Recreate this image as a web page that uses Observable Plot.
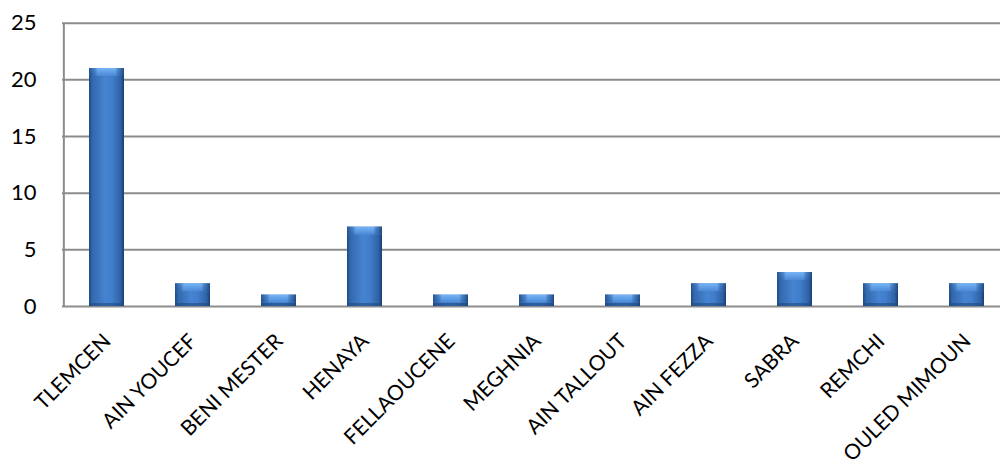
<!DOCTYPE html>
<html>
<head>
<meta charset="utf-8">
<script src="https://cdn.jsdelivr.net/npm/d3@7"></script>
<script src="https://cdn.jsdelivr.net/npm/@observablehq/plot@0.6"></script>
<style>
  html, body { margin: 0; padding: 0; background: #fff; overflow: hidden; }
  svg { display: block; }
</style>
</head>
<body>
<div id="chart"></div>
<script>
// Communes and counts
const communes = ["TLEMCEN", "AIN YOUCEF", "BENI MESTER", "HENAYA", "FELLAOUCENE", "MEGHNIA", "AIN TALLOUT", "AIN FEZZA", "SABRA", "REMCHI", "OULED MIMOUN"];
const counts = [21, 2, 1, 7, 1, 1, 1, 2, 3, 2, 2];
const yTicks = [0, 5, 10, 15, 20, 25];

const data = communes.map((c, i) => ({commune: c, value: counts[i]}));

const W = 1000, H = 469;
const plot = Plot.plot({
  width: W,
  height: H,
  marginLeft: 62,
  marginRight: 0,
  marginTop: 22.7,
  marginBottom: 163,
  style: {fontFamily: "Lato, 'Open Sans', sans-serif", background: "#fff", overflow: "visible"},
  x: {domain: communes, range: [62, 1011], paddingInner: 0.595, paddingOuter: 0.2975, axis: null, label: null},
  y: {domain: [0, 25], ticks: yTicks, axis: null, label: null},
  marks: [
    Plot.ruleY(yTicks, {stroke: "#8c8c8c", strokeWidth: 2, strokeOpacity: 1}),
    Plot.ruleX([communes[0]], {dx: -43.15, y1: 0, y2: 25, stroke: "#8c8c8c", strokeWidth: 2}),
    // bar bodies
    Plot.barY(data, {
      x: "commune", y: "value", fill: "url(#barGrad)",
      style: {filter: "drop-shadow(1px 2px 1.5px rgba(0,0,0,0.35))"}
    }),
    // bevelled top face of each bar
    Plot.barY(data, {x: "commune", y1: "value", y2: "value", insetBottom: -8, fill: "url(#topGrad)"}),
    Plot.barY(data, {x: "commune", y1: "value", y2: "value", insetBottom: -8, fill: "url(#sideShade)"}),
    // darker foot of each bar
    Plot.barY(data, {x: "commune", y1: 0, y2: 0, insetTop: -3, fill: "#1f4a82", fillOpacity: 0.6}),
    Plot.axisY({ticks: yTicks, tickSize: 0, tickPadding: 26, fontSize: 22, fill: "#000", label: null}),
    // rotated category labels ending just below each bar
    Plot.text(communes, {
      x: d => d, y: () => 0, text: d => d, rotate: -45,
      textAnchor: "end", lineAnchor: "bottom", dx: 5, dy: 36,
      fontSize: 21, fill: "#000"
    })
  ]
});

// Gradients for the bar body and its bevelled top
const svg = d3.select(plot);
const defs = svg.insert("defs", ":first-child");
const g1 = defs.append("linearGradient").attr("id", "barGrad").attr("x1", 0).attr("x2", 1).attr("y1", 0).attr("y2", 0);
[[0, "#1d4a85"], [0.1, "#3468ad"], [0.45, "#4683d0"], [0.65, "#427ecb"], [0.9, "#2f62a6"], [1, "#173e73"]]
  .forEach(([o, c]) => g1.append("stop").attr("offset", o).attr("stop-color", c));
const g2 = defs.append("linearGradient").attr("id", "topGrad").attr("x1", 0).attr("x2", 0).attr("y1", 0).attr("y2", 1);
[[0, "#78b4f4"], [0.5, "#5f9ee6"], [1, "#4a88d4"]]
  .forEach(([o, c]) => g2.append("stop").attr("offset", o).attr("stop-color", c));
const g3 = defs.append("linearGradient").attr("id", "sideShade").attr("x1", 0).attr("x2", 1).attr("y1", 0).attr("y2", 0);
[[0, "#1d4a85", 0.9], [0.18, "#2c5fa3", 0.5], [0.25, "#2c5fa3", 0], [0.75, "#2c5fa3", 0], [0.82, "#2c5fa3", 0.5], [1, "#173e73", 0.9]]
  .forEach(([o, c, a]) => g3.append("stop").attr("offset", o).attr("stop-color", c).attr("stop-opacity", a));

document.getElementById("chart").appendChild(plot);
</script>
</body>
</html>
